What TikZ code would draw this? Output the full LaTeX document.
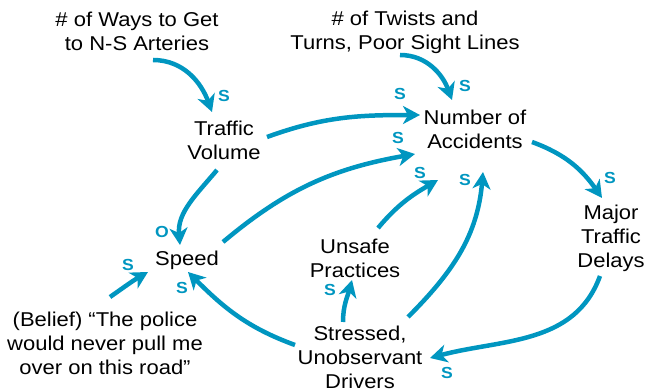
\documentclass[tikz,border=0pt]{standalone}
\usepackage{fontspec}
\setmainfont{Liberation Sans}[FakeStretch=1.1]
\usetikzlibrary{arrows.meta}
\definecolor{loopblue}{RGB}{0,150,192}
\tikzset{
  var/.style={align=center, font=\fontsize{20}{24}\selectfont, inner sep=0pt},
  link/.style={loopblue, line width=4.5pt, -{Stealth[length=17pt,width=18pt,inset=5pt]}},
  pol/.style={loopblue, font=\fontsize{16}{16}\selectfont\bfseries, inner sep=0pt}
}
\begin{document}
\begin{tikzpicture}[x=1pt, y=1pt]
    \useasboundingbox (0,0) rectangle (645,391);
    % variables
    \node[var] (ways) at (137,360) {\# of Ways to Get\\to N-S Arteries};
    \node[var] (twists) at (405,359) {\# of Twists and\\Turns, Poor Sight Lines};
    \node[var] (vol) at (224,251) {Traffic\\Volume};
    \node[var] (acc) at (475,262) {Number of\\Accidents};
    \node[var] (speed) at (187,131) {Speed};
    \node[var] (unsafe) at (355,133) {Unsafe\\Practices};
    \node[var] (major) at (611,153) {Major\\Traffic\\Delays};
    \node[var] (stress) at (360,34) {Stressed,\\Unobservant\\Drivers};
    \node[var] (belief) at (105,48) {(Belief) “The police\\would never pull me\\over on this road”};
    % links
    \draw[link] ([shift={(16,-29)}]ways.center) to[out=0,in=110] ([shift={(-12,28)}]vol.center);
    \draw[link] ([shift={(-5,-23)}]twists.center) to[out=0,in=110] ([shift={(-23,29)}]acc.center);
    \draw[link] ([shift={(43,3)}]vol.center) to[out=20,in=180] ([shift={(-55,14)}]acc.center);
    \draw[link] ([shift={(36,18)}]speed.center) to[out=40,in=190] ([shift={(-60,-25)}]acc.center);
    \draw[link] ([shift={(-7,-30)}]vol.center) to[out=-130,in=95] ([shift={(-7,15)}]speed.center);
    \draw[link] ([shift={(5,46)}]belief.center) to[out=35,in=210] ([shift={(-39,-12)}]speed.center);
    \draw[link] ([shift={(-65,12)}]stress.center) to[out=160,in=-45] ([shift={(1,-12)}]speed.center);
    \draw[link] ([shift={(-17,35)}]stress.center) to[out=90,in=-105] ([shift={(-3,-22)}]unsafe.center);
    \draw[link] ([shift={(23,30)}]unsafe.center) to[out=50,in=210] ([shift={(-37,-51)}]acc.center);
    \draw[link] ([shift={(48,40)}]stress.center) to[out=45,in=-95] ([shift={(8,-43)}]acc.center);
    \draw[link] ([shift={(57,-13)}]acc.center) to[out=-20,in=125] ([shift={(-9,40)}]major.center);
    \draw[link] ([shift={(-11,-38)}]major.center) to[out=-110,in=15] ([shift={(70,-1)}]stress.center);
    % polarities
    \foreach \n/\x/\y/\t in {1/224/295/S, 2/465/305/S, 3/400/297/S, 4/398/253/S,
        5/162/159/O, 6/128/126/S, 7/182/103/S, 8/330/101/S, 9/420/218/S,
        10/465/211/S, 11/610/213/S, 12/447/18/S}
      \node[pol] (p\n) at (\x,\y) {\t};
\end{tikzpicture}
\end{document}
